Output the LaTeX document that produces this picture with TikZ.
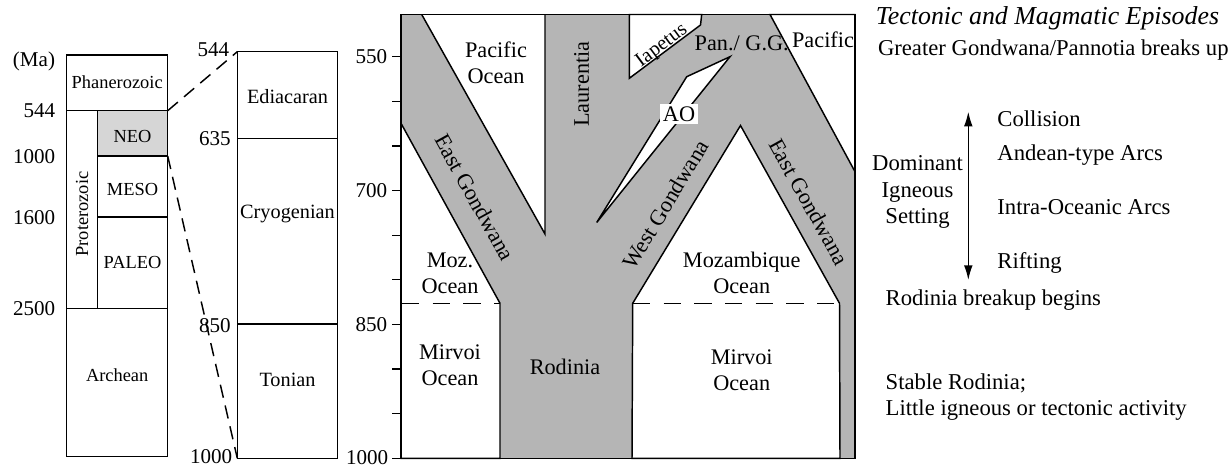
\documentclass[tikz,border=0pt]{standalone}
\usepackage{fontspec}
\setmainfont{Liberation Serif}
\usetikzlibrary{arrows.meta}
\definecolor{landgray}{RGB}{181,181,181}
\definecolor{neogray}{RGB}{214,214,214}
\begin{document}
\begin{tikzpicture}[x=0.75pt,y=-0.75pt,
  font=\fontsize{16.7}{19.6}\selectfont,
  line width=1.1pt, line join=miter,
  lbl/.style={inner sep=0pt},
  small/.style={inner sep=0pt, font=\fontsize{13.8}{16}\selectfont},
  mid/.style={inner sep=0pt, font=\fontsize{15.2}{18}\selectfont},
  num/.style={inner sep=0pt, anchor=east, font=\fontsize{15.8}{18}\selectfont},
  tick/.style={line width=1pt},
  zoomline/.style={line width=1.1pt, dash pattern=on 10pt off 6pt},
  oceanline/.style={line width=1pt, dash pattern=on 13pt off 10pt},
  ocean/.style={fill=white, draw=black},
  note/.style={inner sep=0pt, anchor=west, font=\fontsize{17}{19.6}\selectfont}]
\useasboundingbox (0,0) rectangle (1231,464);

% ---------------- left time scale ----------------
\coordinate (lt) at (66.7,55);
\coordinate (lb) at (167.7,456.7);
\fill[neogray] (97.3,110.7) rectangle (167.7,156);
\draw (lt) rectangle (lb);
\draw (66.7,110.7) -- (167.7,110.7);
\draw (66.7,308.7) -- (167.7,308.7);
\draw (97.3,110.7) -- (97.3,308.7);
\draw (97.3,156) -- (167.7,156);
\draw (97.3,217) -- (167.7,217);
\coordinate (neoTR) at (167.7,110.7);
\coordinate (neoBR) at (167.7,156);

\node[num, anchor=center] (ma) at (34,61) {(Ma)};
\node[num] (l544) at (56,110.7) {544};
\node[num] (l1000) at (56,156.5) {1000};
\node[num] (l1600) at (56,217.5) {1600};
\node[num] (l2500) at (56,308.7) {2500};
\node[small] (phan) at (117.2,82) {Phanerozoic};
\node[small] (neo) at (132.5,136.5) {NEO};
\node[small] (meso) at (132.5,189) {MESO};
\node[small] (paleo) at (132.5,262.5) {PALEO};
\node[small] (arch) at (117.2,375) {Archean};
\node[small, rotate=90] (prot) at (82,214) {Proterozoic};

% ---------------- middle time scale ----------------
\coordinate (mt) at (237.3,51.7);
\coordinate (mb) at (337.7,458.3);
\coordinate (mbl) at (237.3,458.3);
\draw (mt) rectangle (mb);
\draw (237.3,138.3) -- (337.7,138.3);
\draw (237.3,324) -- (337.7,324);
\node[num] (m544) at (230,50) {544};
\node[num] (m635) at (231.5,138.3) {635};
\node[num] (m850) at (231.5,325.5) {850};
\node[num] (m1000) at (233,457) {1000};
\node[mid] (edi) at (287.5,96.5) {Ediacaran};
\node[mid] (cryo) at (287.5,214) {Cryogenian};
\node[mid] (ton) at (287.5,380) {Tonian};

\draw[zoomline] (neoTR) -- (mt);
\draw[zoomline] (neoBR) -- (mbl);

% ---------------- main panel ----------------
\fill[landgray] (401,14.5) rectangle (855,458.3);
\filldraw[ocean] (421.7,14.5) -- (545,234) -- (545,14.5);
\filldraw[ocean] (401,123.3) -- (500,303.3) -- (500,458.3) -- (401,458.3) -- cycle;
\filldraw[ocean] (632,458.3) -- (632.7,303.3) -- (740.5,125.5) -- (839.5,303.3) -- (840,458.3) -- cycle;
\filldraw[ocean] (770,14.5) -- (855,171.7) -- (855,14.5) -- cycle;
\filldraw[ocean] (629.3,14.5) -- (629.3,78.3) -- (700.5,25) -- (701.7,14.5) -- cycle;
\filldraw[ocean] (596.7,222.5) -- (686.7,76.7) -- (730,56.7) -- cycle;
\draw (401,14.5) rectangle (855,458.3);
\draw[oceanline] (402,303.3) -- (500,303.3);
\draw[oceanline] (633,303.3) -- (839.5,303.3);

% ticks
\foreach \i in {0,...,9} {
  \draw[tick] (401,56.7+\i*44.62) -- (391.5,56.7+\i*44.62);
}
\node[num] (t550) at (388,56.7) {550};
\node[num] (t700) at (388,190.6) {700};
\node[num] (t850) at (388,324.4) {850};
\node[num] (t1000) at (389,457.5) {1000};

% labels in panel
\node[lbl, align=center] (pac) at (496,63) {Pacific\\Ocean};
\node[lbl, rotate=90] (laur) at (581.7,84) {Laurentia};
\node[lbl, rotate=36.6, font=\fontsize{15.2}{17}\selectfont] (iap) at (662,46) {Iapetus};
\node[lbl] (pan) at (741.7,43.3) {Pan./ G.G.};
\node[lbl] (pac2) at (823,40) {Pacific};
\node[fill=white, inner sep=2pt] (ao) at (679,114) {AO};
\node[lbl, rotate=-61] (eg1) at (475,197.5) {East Gondwana};
\node[lbl, rotate=59] (wg) at (665.8,204.2) {West Gondwana};
\node[lbl, rotate=-61] (eg2) at (809,201.7) {East Gondwana};
\node[lbl, align=center] (moz) at (450,273) {Moz.\\Ocean};
\node[lbl, align=center] (mozo) at (741.7,273) {Mozambique\\Ocean};
\node[lbl, align=center] (mir1) at (450,365) {Mirvoi\\Ocean};
\node[lbl] (rod) at (565,367.3) {Rodinia};
\node[lbl, align=center] (mir2) at (741.7,370.3) {Mirvoi\\Ocean};

% ---------------- right text ----------------
\node[lbl, font=\fontsize{19.4}{22}\selectfont\itshape] (title) at (1047.5,18.3) {Tectonic and Magmatic Episodes};
\node[lbl, font=\fontsize{17}{19.6}\selectfont] (gg) at (1053.3,50) {Greater Gondwana/Pannotia breaks up};
\coordinate (atop) at (968.3,111.7);
\coordinate (abot) at (968.3,280);
\draw[line width=1pt, {Latex[length=11pt,width=6.5pt]}-{Latex[length=11pt,width=6.5pt]}] (atop) -- (abot);
\node[note] (col) at (996.7,118.3) {Collision};
\node[note] (and) at (996.7,155) {Andean-type Arcs};
\node[note] (intra) at (996.7,206.7) {Intra-Oceanic Arcs};
\node[note] (rift) at (996.7,263.3) {Rifting};
\node[lbl, align=center, font=\fontsize{17}{19.6}\selectfont] (dom) at (917.5,192) {Dominant\\Igneous\\Setting};
\node[note] (rb) at (885,300) {Rodinia breakup begins};
\node[note, align=left] (stable) at (885,396.7) {Stable Rodinia;\\Little igneous or tectonic activity};
\end{tikzpicture}
\end{document}
